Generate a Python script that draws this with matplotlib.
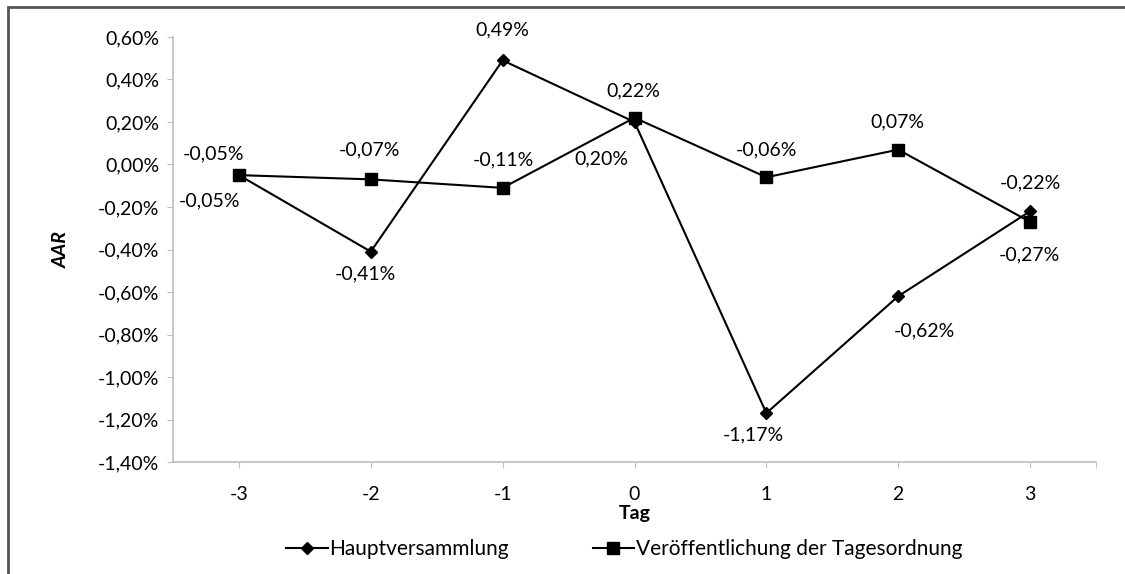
import matplotlib.pyplot as plt
import matplotlib.patches as patches
from matplotlib.ticker import FuncFormatter, FixedLocator

plt.rcParams['font.family'] = ['Lato', 'DejaVu Sans']
plt.rcParams['axes.unicode_minus'] = False

tage = [-3, -2, -1, 0, 1, 2, 3]
hauptversammlung = [-0.05, -0.41, 0.49, 0.20, -1.17, -0.62, -0.22]
tagesordnung = [-0.05, -0.07, -0.11, 0.22, -0.06, 0.07, -0.27]

# label offsets in pixels (dx, dy)
off_hv = [(-29, -26), (-5, -22), (0, 30), (-33, -37), (-13, -22), (26, -35), (0, 28)]
off_to = [(-25, 21), (-1, 29), (1, 28), (-1, 27), (0, 27), (-1, 28), (-1, -33)]

def pct(v):
    return ('%.2f%%' % v).replace('.', ',')

fs = 14

fig = plt.figure(figsize=(11.25, 5.74), dpi=100)
ax = fig.add_axes([173/1125, 1-462/574, (1096-173)/1125, (462-37)/574])

ax.plot(tage, hauptversammlung, color='black', lw=1.5, marker='D', ms=6, label='Hauptversammlung')
ax.plot(tage, tagesordnung, color='black', lw=1.5, marker='s', ms=8, label='Veröffentlichung der Tagesordnung')

for x, y, o in zip(tage, hauptversammlung, off_hv):
    ax.annotate(pct(y), (x, y), xytext=o, textcoords='offset pixels', ha='center', va='center', fontsize=fs)
for x, y, o in zip(tage, tagesordnung, off_to):
    ax.annotate(pct(y), (x, y), xytext=o, textcoords='offset pixels', ha='center', va='center', fontsize=fs)

ax.set_xlim(-3.5, 3.5)
ax.set_ylim(-1.40, 0.60)
ax.set_yticks([-1.4 + 0.2*i for i in range(11)])
ax.yaxis.set_major_formatter(FuncFormatter(lambda v, p: pct(v)))
ax.set_xticks(tage)
ax.xaxis.set_minor_locator(FixedLocator([3.5]))
ax.tick_params(which='both', direction='out', length=4, color='#bfbfbf', labelsize=fs)
ax.tick_params(axis='x', pad=13)
ax.tick_params(axis='y', pad=6)

for s in ['top', 'right']:
    ax.spines[s].set_visible(False)
for s in ['left', 'bottom']:
    ax.spines[s].set_color('#bfbfbf')
    ax.spines[s].set_linewidth(1.2)

ax.set_ylabel('AAR', fontsize=fs, fontweight='bold', fontstyle='italic', labelpad=20)
ax.set_xlabel('Tag', fontsize=fs, fontweight='bold', labelpad=2)

ax.legend(loc='center', bbox_to_anchor=(0.489, -0.205), ncol=2, frameon=False, fontsize=15,
          handlelength=2.0, handletextpad=0.1, columnspacing=4.0)

fig.patches.append(patches.Rectangle((8/1125, -0.1), 1.2, 1 - 7/574 + 0.1, transform=fig.transFigure,
                                     fill=False, edgecolor='#555555', lw=2))

fig.savefig('out.png')
